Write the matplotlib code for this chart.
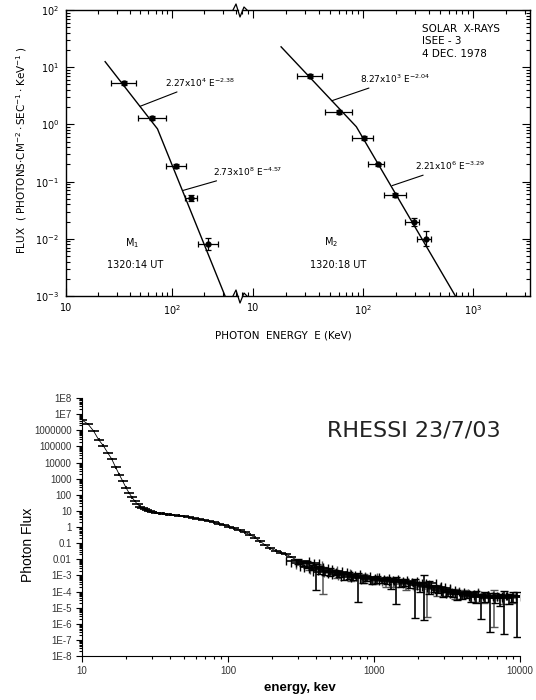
import numpy as np
import matplotlib.pyplot as plt
from matplotlib.lines import Line2D
from matplotlib.patches import Rectangle
from matplotlib.ticker import LogLocator, NullFormatter

W, H = 536, 700

# ---- top panel: ISEE-3 spectra (M1 and M2) ----
m1_E = [35, 65, 110, 150, 218]
m1_F = [5.3, 1.3, 0.19, 0.051, 0.0081]
m1_Elo = [26.6, 47.8, 87.7, 132, 176]
m1_Ehi = [45.7, 87.7, 135, 172, 272]
m1_Flo = [4.9, 1.2, 0.175, 0.045, 0.0063]
m1_Fhi = [5.7, 1.4, 0.205, 0.058, 0.0102]

m2_E = [33, 61, 102, 138, 196, 288, 372]
m2_F = [7.0, 1.65, 0.58, 0.20, 0.058, 0.0195, 0.010]
m2_Elo = [25.1, 45.2, 79.4, 111, 155, 240, 309]
m2_Ehi = [42.4, 79.4, 123, 155, 245, 324, 414]
m2_Flo = [6.5, 1.55, 0.54, 0.185, 0.053, 0.0165, 0.0076]
m2_Fhi = [7.5, 1.75, 0.62, 0.215, 0.063, 0.0228, 0.0138]

# broken power-law fits (vertices)
m1_fit_E = [23.4, 73, 317]
m1_fit_F = [12.5, 0.835, 1e-3]
m2_fit_E = [18, 87, 692]
m2_fit_F = [22.7, 0.91, 1e-3]

m1_fit_text = ['2.27x10$^{4}$ E$^{-2.38}$', '2.73x10$^{8}$ E$^{-4.57}$']
m2_fit_text = ['8.27x10$^{3}$ E$^{-2.04}$', '2.21x10$^{6}$ E$^{-3.29}$']

# ---- bottom panel: RHESSI spectrum ----
E1 = [10, 11, 12, 13, 14, 15, 16, 17, 18, 19, 20, 21, 22, 23, 24, 25, 26, 27, 28, 29,
      30, 32, 34, 36, 38, 40, 43, 46, 50, 54, 58, 63, 68, 74, 80, 87, 94, 102, 110,
      120, 130, 141, 153, 166, 180, 195, 212, 230, 250, 270, 295]
F1 = [4.3e6, 2.4e6, 9.0e5, 2.6e5, 1.1e5, 4.0e4, 1.6e4, 5.0e3, 1.8e3, 700, 280, 130,
      70, 40, 26, 18.6, 14.8, 12.3, 10.7, 9.5, 8.7, 7.8, 7.1, 6.6, 6.2, 5.8, 5.4, 5.0,
      4.6, 4.1, 3.5, 3.1, 2.7, 2.3, 1.95, 1.6, 1.3, 1.05, 0.83, 0.63, 0.47, 0.34, 0.22,
      0.13, 0.075, 0.048, 0.034, 0.026, 0.020, 0.014, 0.009]

E2 = [300, 325, 350, 375, 400, 430, 460, 500, 540, 580, 620, 670, 720, 780, 840, 900,
      970, 1050, 1130, 1220, 1310, 1410, 1520, 1640, 1770, 1900, 2050, 2210, 2380, 2560,
      2760, 2970, 3200, 3450, 3720, 4000, 4310, 4650, 5000, 5400, 5800, 6250, 6750,
      7250, 7800, 8400, 9000, 9600]
F2 = [8.0e-3, 6.0e-3, 5.5e-3, 3.5e-3, 3.0e-3, 2.6e-3, 1.6e-3, 1.9e-3, 1.6e-3, 1.3e-3,
      1.1e-3, 1.2e-3, 8.5e-4, 9.5e-4, 7.0e-4, 7.5e-4, 6.0e-4, 6.5e-4, 5.0e-4, 5.8e-4,
      4.5e-4, 5.0e-4, 4.0e-4, 4.4e-4, 3.2e-4, 3.6e-4, 2.5e-4, 3.5e-4, 2.2e-4, 1.8e-4,
      1.6e-4, 1.2e-4, 1.0e-4, 9.0e-5, 7.5e-5, 7.0e-5, 8.0e-5, 5.5e-5, 6.5e-5, 4.5e-5,
      5.5e-5, 4.0e-5, 5.0e-5, 4.2e-5, 5.5e-5, 4.5e-5, 5.5e-5, 5.0e-5]
# lower / upper error depth in decades
D2_lo = [0.2, 0.2, 0.3, 0.2, 1.4, 0.3, 0.2, 0.3, 0.2, 0.2, 0.3, 0.3, 0.2, 1.6, 0.3, 0.2,
         0.3, 0.3, 0.2, 0.3, 0.5, 1.5, 0.3, 0.3, 0.3, 2.2, 0.4, 2.3, 0.5, 0.3, 0.3, 0.4,
         0.3, 0.3, 0.4, 0.3, 0.3, 0.4, 0.5, 1.35, 0.4, 2.1, 0.4, 0.5, 2.4, 0.4, 0.4, 2.5]
D2_hi = [0.1, 0.1, 0.15, 0.1, 0.2, 0.15, 0.1, 0.15, 0.1, 0.1, 0.15, 0.15, 0.1, 0.2,
         0.15, 0.1, 0.15, 0.15, 0.1, 0.15, 0.2, 0.2, 0.15, 0.15, 0.15, 0.2, 0.2, 0.5,
         0.3, 0.15, 0.15, 0.2, 0.15, 0.15, 0.2, 0.15, 0.15, 0.2, 0.2, 0.2, 0.2, 0.3,
         0.2, 0.2, 0.3, 0.2, 0.2, 0.3]

E3 = [360, 450, 560, 700, 850, 1000, 1200, 1400, 1650, 1950, 2300, 2700, 3100, 3600,
      4200, 4900, 5700, 6600, 7600, 8800]
F3 = [4.5e-3, 2.2e-3, 1.4e-3, 9.0e-4, 8.0e-4, 5.5e-4, 4.8e-4, 3.8e-4, 3.0e-4, 2.8e-4,
      2.0e-4, 1.4e-4, 1.1e-4, 8.5e-5, 9.0e-5, 6.0e-5, 4.8e-5, 6.0e-5, 4.0e-5, 4.6e-5]
D3_lo = [0.3, 1.5, 0.3, 0.3, 0.4, 0.3, 0.4, 0.3, 0.4, 0.3, 1.9, 0.4, 0.3, 0.4, 0.3,
         0.4, 0.4, 2.0, 0.4, 0.4]
D3_hi = [0.15, 0.2, 0.15, 0.15, 0.2, 0.15, 0.2, 0.15, 0.2, 0.15, 0.3, 0.2, 0.15, 0.2,
         0.15, 0.2, 0.2, 0.3, 0.2, 0.2]

ytick_vals = [10.0 ** k for k in range(-8, 9)]
ytick_text = ['1E-8', '1E-7', '1E-6', '1E-5', '1E-4', '1E-3', '0.01', '0.1', '1', '10',
              '100', '1000', '10000', '100000', '1000000', '1E7', '1E8']
xtick_vals = [10, 100, 1000, 10000]
xtick_text = ['10', '100', '1000', '10000']


def box(x0, y0, x1, y1):
    # pixel box -> figure fraction
    return [x0 / W, 1 - y1 / H, (x1 - x0) / W, (y1 - y0) / H]


def asym(v, lo, hi):
    v = np.asarray(v, float)
    return [v - np.asarray(lo, float), np.asarray(hi, float) - v]


def log_err(v, dlo, dhi):
    v = np.asarray(v, float)
    return [v * (1 - 10.0 ** -np.asarray(dlo, float)), v * (10.0 ** np.asarray(dhi, float) - 1)]


fig = plt.figure(figsize=(W / 100, H / 100), dpi=100)

# ================= top panel =================
axL = fig.add_axes(box(66, 10, 238, 296))
axR = fig.add_axes(box(242, 10, 530, 296))
for ax in (axL, axR):
    ax.patch.set_visible(False)
    ax.set_xscale('log')
    ax.set_yscale('log')
    ax.set_ylim(1e-3, 1e2)
    ax.tick_params(which='both', direction='in', top=True, width=0.8, labelsize=7)
    ax.tick_params(which='major', length=6, pad=5)
    ax.tick_params(which='minor', length=3)
    for s in ax.spines.values():
        s.set_linewidth(1.0)
axL.set_xlim(10, 420)
axR.set_xlim(7.94, 3300)
axL.spines['right'].set_visible(False)
axR.spines['left'].set_visible(False)
axL.tick_params(which='both', right=False)
axR.tick_params(which='both', left=False, right=True, labelleft=False)
axL.set_xticks([10, 100])
axL.set_xticklabels(['10', '$10^2$'])
axR.set_xticks([10, 100, 1000])
axR.set_xticklabels(['10', '$10^2$', '$10^3$'])
axL.xaxis.set_minor_formatter(NullFormatter())
axR.xaxis.set_minor_formatter(NullFormatter())

axL.plot(m1_fit_E, m1_fit_F, color='k', lw=1.0)
axL.errorbar(m1_E, m1_F, xerr=asym(m1_E, m1_Elo, m1_Ehi), yerr=asym(m1_F, m1_Flo, m1_Fhi),
             fmt='o', ms=3.5, color='k', elinewidth=0.9, capsize=2, capthick=0.9)
axR.plot(m2_fit_E, m2_fit_F, color='k', lw=1.0)
axR.errorbar(m2_E, m2_F, xerr=asym(m2_E, m2_Elo, m2_Ehi), yerr=asym(m2_F, m2_Flo, m2_Fhi),
             fmt='o', ms=3.5, color='k', elinewidth=0.9, capsize=2, capthick=0.9)

ann = dict(fontsize=6.5, ha='left', va='center', annotation_clip=False,
           arrowprops=dict(arrowstyle='-', lw=0.8, color='k', shrinkA=0, shrinkB=0))
axL.annotate(m1_fit_text[0], xy=(50, 2.07), xytext=(86, 5.3), **ann)
axL.annotate(m1_fit_text[1], xy=(127, 0.07), xytext=(245, 0.148), **ann)
axR.annotate(m2_fit_text[0], xy=(52, 2.59), xytext=(94, 6.2), **ann)
axR.annotate(m2_fit_text[1], xy=(184, 0.085), xytext=(296, 0.186), **ann)

axL.text(42, 0.0085, 'M$_1$', fontsize=7, ha='center', va='center')
axL.text(45, 0.0035, '1320:14 UT', fontsize=7, ha='center', va='center')
axR.text(51, 0.0088, 'M$_2$', fontsize=7, ha='center', va='center')
axR.text(60, 0.0035, '1320:18 UT', fontsize=7, ha='center', va='center')
fig.text(422 / W, 1 - 24 / H, 'SOLAR  X-RAYS\nISEE - 3\n4 DEC. 1978', fontsize=7.5,
         ha='left', va='top', linespacing=1.3)

fig.text(22 / W, 1 - 150 / H,
         'FLUX  ( PHOTONS$\\cdot$CM$^{-2}\\cdot$SEC$^{-1}\\cdot$KeV$^{-1}$ )',
         rotation=90, fontsize=7.5, ha='center', va='center')
fig.text(283 / W, 1 - 336 / H, 'PHOTON  ENERGY  E (KeV)', fontsize=7.5,
         ha='center', va='center')

# axis break marks
for yb in (10, 296):
    xs = [233, 236, 240, 244, 247]
    ys = [yb, yb - 6, yb + 7, yb - 3, yb]
    fig.add_artist(Line2D([x / W for x in xs], [1 - y / H for y in ys],
                          color='k', lw=0.9, transform=fig.transFigure))

# ================= bottom panel =================
axB = fig.add_axes(box(82, 398, 520, 656))
axB.set_xscale('log')
axB.set_yscale('log')
axB.set_xlim(10, 10000)
axB.set_ylim(1e-8, 1e8)
axB.spines['top'].set_visible(False)
axB.spines['right'].set_visible(False)
axB.set_yticks(ytick_vals)
axB.set_yticklabels(ytick_text)
axB.yaxis.set_minor_locator(LogLocator(base=10, subs=np.arange(2, 10), numticks=100))
axB.yaxis.set_minor_formatter(NullFormatter())
axB.set_xticks(xtick_vals)
axB.set_xticklabels(xtick_text)
axB.xaxis.set_minor_formatter(NullFormatter())
axB.tick_params(which='both', labelsize=7, labelcolor='#333333', width=0.8)
axB.tick_params(which='major', length=4)
axB.tick_params(which='minor', length=2.5)
for lbl in axB.get_xticklabels() + axB.get_yticklabels():
    lbl.set_family('Liberation Sans')

axB.errorbar(E1, F1, xerr=log_err(E1, 0.035, 0.035), yerr=log_err(F1, 0.08, 0.08),
             fmt='-', color='k', lw=0.6, elinewidth=1.2, capsize=0)
axB.errorbar(E3, F3, xerr=log_err(E3, 0.09, 0.09), yerr=log_err(F3, D3_lo, D3_hi),
             fmt='none', ecolor='#555555', elinewidth=1.1, capsize=3, capthick=1.0)
axB.errorbar(E2, F2, xerr=log_err(E2, 0.08, 0.08), yerr=log_err(F2, D2_lo, D2_hi),
             fmt='-', color='k', lw=0.6, elinewidth=1.2, capsize=3, capthick=1.0)

fig.add_artist(Rectangle((283 / W, 1 - 455 / H), 227 / W, 50 / H, transform=fig.transFigure,
                         facecolor='#f6f2f0', edgecolor='none', zorder=0))
fig.text(327 / W, 1 - 430 / H, 'RHESSI 23/7/03', fontsize=16, color='#222222',
         ha='left', va='center')
fig.text(28 / W, 1 - 545 / H, 'Photon Flux', rotation=90, fontsize=10,
         family='Liberation Sans', ha='center', va='center')
fig.text(300 / W, 1 - 688 / H, 'energy, kev', fontsize=9.5, fontweight='bold',
         family='Liberation Sans', ha='center', va='center')

fig.savefig('out.png', dpi=100)
